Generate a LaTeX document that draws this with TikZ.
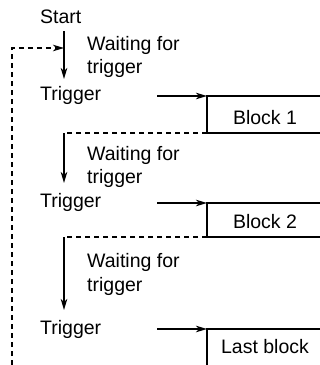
\documentclass[tikz,border=0pt]{standalone}
\usepackage{fontspec}
\setmainfont{Liberation Sans}
\usetikzlibrary{arrows.meta}
\begin{document}
\begin{tikzpicture}[x=1pt,y=-1pt,
  lbl/.style={inner sep=0pt,anchor=base west,font=\fontsize{19.5}{23}\selectfont},
  ctr/.style={inner sep=0pt,anchor=base,font=\fontsize{19.5}{23}\selectfont},
  conn/.style={line width=1.3pt,-{Stealth[length=11pt,width=6.5pt,inset=3pt]}},
  wall/.style={line width=1.2pt},
  loop/.style={line width=1.1pt,dash pattern=on 5pt off 4pt},
  loopa/.style={loop,-{Stealth[length=11pt,width=6.5pt,inset=3pt]}}]
\useasboundingbox (0,0) rectangle (320,365);

% texts
\node[lbl] (start) at (40,23) {Start};
\node[lbl] (w1a) at (87,50) {Waiting for};
\node[lbl] (w1b) at (87,73) {trigger};
\node[lbl] (t1) at (40,100) {Trigger};
\node[lbl] (w2a) at (87,160) {Waiting for};
\node[lbl] (w2b) at (87,183) {trigger};
\node[lbl] (t2) at (40,207) {Trigger};
\node[lbl] (w3a) at (87,267) {Waiting for};
\node[lbl] (w3b) at (87,291) {trigger};
\node[lbl] (t3) at (40,334) {Trigger};
\node[ctr] (b1) at (265,124) {Block 1};
\node[ctr] (b2) at (265,228) {Block 2};
\node[ctr] (b3) at (265,353) {Last block};

% coordinates
\coordinate (s1) at (64,31);
\coordinate (e1) at (64,79);
\coordinate (lb) at (12,365);
\coordinate (lt) at (12,48);
\coordinate (lm) at (64,48);

\coordinate (h1) at (157,96);
\coordinate (b1tl) at (207,96);
\coordinate (b1tr) at (320,96);
\coordinate (b1bl) at (207,133);
\coordinate (b1br) at (320,133);
\coordinate (d1) at (64,133);
\coordinate (e2) at (64,183);

\coordinate (h2) at (157,203);
\coordinate (b2tl) at (207,203);
\coordinate (b2tr) at (320,203);
\coordinate (b2bl) at (207,237);
\coordinate (b2br) at (320,237);
\coordinate (d2) at (64,237);
\coordinate (e3) at (64,310);

\coordinate (h3) at (157,329);
\coordinate (b3tl) at (207,329);
\coordinate (b3tr) at (320,329);
\coordinate (b3bl) at (207,365);

% start arrow and outer loop
\draw[conn] (s1) -- (e1);
\draw[loopa] (lb) -- (lt) -- (lm);

% block 1
\draw[conn] (h1) -- (b1tl);
\draw[wall] (b1tr) -- (b1tl) -- (b1bl) -- (b1br);
\draw[loop] (b1bl) -- (d1);
\draw[conn] (d1) -- (e2);

% block 2
\draw[conn] (h2) -- (b2tl);
\draw[wall] (b2tr) -- (b2tl) -- (b2bl) -- (b2br);
\draw[loop] (b2bl) -- (d2);
\draw[conn] (d2) -- (e3);

% last block
\draw[conn] (h3) -- (b3tl);
\draw[wall] (b3tr) -- (b3tl) -- (b3bl);
\end{tikzpicture}
\end{document}
